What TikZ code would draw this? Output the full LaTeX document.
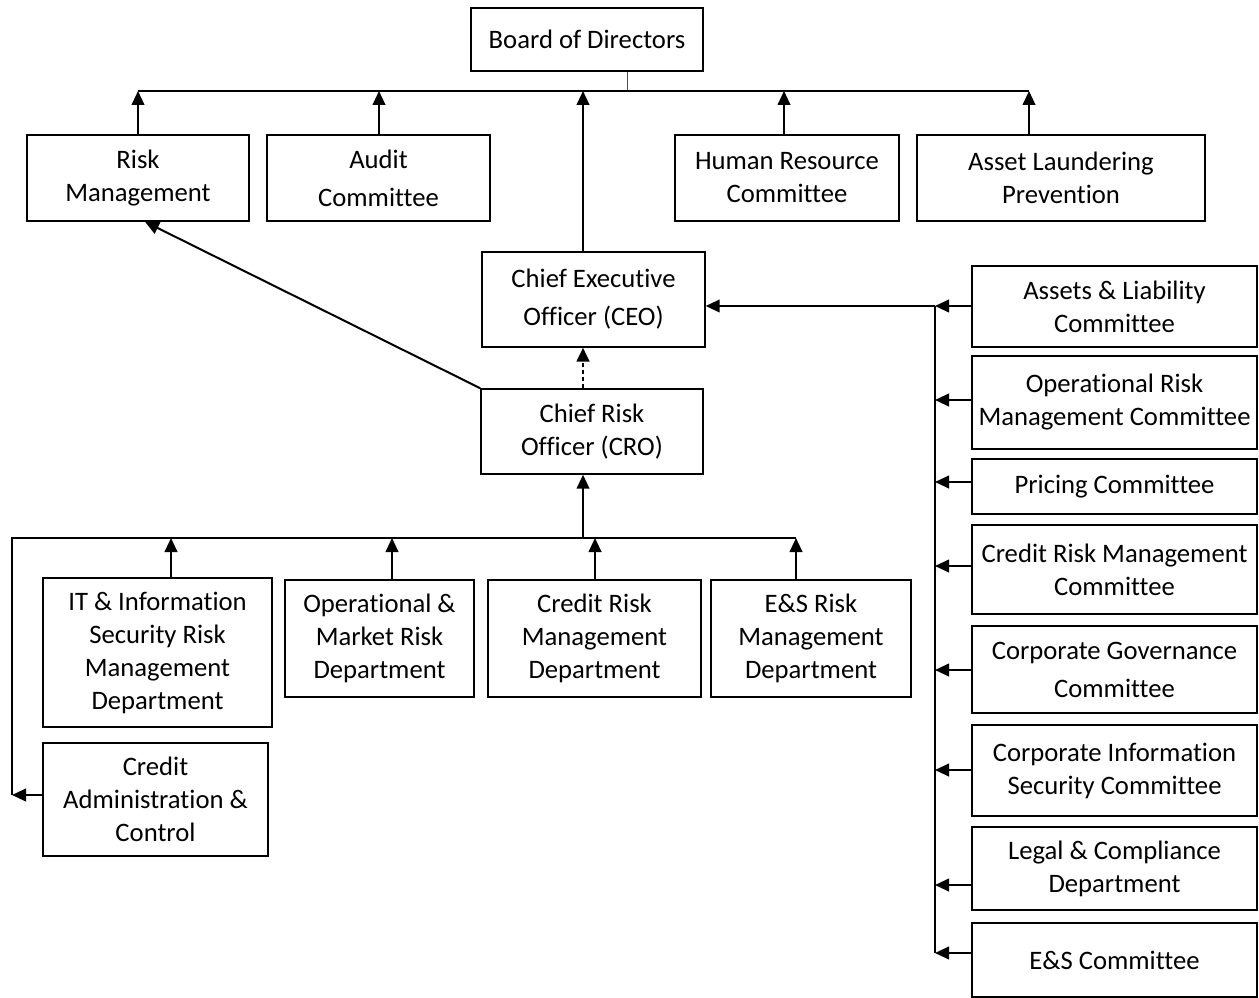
\documentclass[tikz,border=0pt]{standalone}
\usepackage{fontspec}
\setmainfont{Carlito}[Ligatures=NoCommon]
\usetikzlibrary{arrows.meta,calc}

\begin{document}
\begin{tikzpicture}[
    x=0.75pt, y=-0.75pt,
    box/.style={rectangle, draw=black, line width=1.1pt, inner sep=1pt, align=center, font=\fontsize{20}{24.75}\selectfont},
    loose/.style={font=\fontsize{20}{28.5}\selectfont},
    wh/.style 2 args={minimum width=#1*0.75pt, minimum height=#2*0.75pt},
    arrow/.style={-{Triangle[length=10.5pt, width=9.5pt]}, line width=1.5pt},
    link/.style={line width=1.4pt}
]
\useasboundingbox (0,0) rectangle (1259,998);

% Board
\node[box, wh={232}{63}] (board) at (587,39.5) {Board of Directors};

% Board committees
\node[box, wh={222}{86}] (risk) at (138,178) {Risk\\Management};
\node[box, loose, wh={223}{86}] (audit) at (378.5,178) {Audit\\Committee};
\node[box, wh={224}{86}] (hr) at (787,178) {Human Resource\\Committee};
\node[box, wh={288}{86}] (alp) at (1061,178) {Asset Laundering\\Prevention};

% Executive line
\node[box, loose, wh={223}{95}] (ceo) at (593.5,299.5) {Chief Executive\\Officer (CEO)};
\node[box, wh={222}{85}] (cro) at (592,431.5) {Chief Risk\\Officer (CRO)};

% Risk departments
\node[box, wh={229}{149}] (itsec) at (157.5,652.5) {IT \& Information\\Security Risk\\Management\\Department};
\node[box, wh={189}{117}] (opmkt) at (379.5,638.5) {Operational \&\\Market Risk\\Department};
\node[box, wh={213}{117}] (crdept) at (594.5,638.5) {Credit Risk\\Management\\Department};
\node[box, wh={200}{117}] (esdept) at (811,638.5) {E\&S Risk\\Management\\Department};
\node[box, wh={225}{113}] (cadmin) at (155.5,799.5) {Credit\\Administration \&\\Control};

% Management committees
\node[box, wh={285}{81}] (alco) at (1114.5,306.5) {Assets \& Liability\\Committee};
\node[box, wh={285}{93}] (ormc) at (1114.5,402.5) {Operational Risk\\Management Committee};
\node[box, wh={285}{55}] (pricing) at (1114.5,486.5) {Pricing Committee};
\node[box, wh={285}{89}] (crmc) at (1114.5,569.5) {Credit Risk Management\\Committee};
\node[box, loose, wh={285}{87}] (cgc) at (1114.5,669.5) {Corporate Governance\\Committee};
\node[box, wh={285}{91}] (cisc) at (1114.5,770.5) {Corporate Information\\Security Committee};
\node[box, wh={285}{83}] (legal) at (1114.5,868.5) {Legal \& Compliance\\Department};
\node[box, wh={285}{74}] (escom) at (1114.5,960) {E\&S Committee};

% Bus points
\coordinate (topbus) at (627,91);
\coordinate (t1) at (138,91);
\coordinate (t2) at (379,91);
\coordinate (t3) at (583,91);
\coordinate (t4) at (784,91);
\coordinate (t5) at (1029,91);
\coordinate (b0) at (12,795);
\coordinate (b1) at (171,538);
\coordinate (b2) at (392,538);
\coordinate (b3) at (583,538);
\coordinate (b4) at (595,538);
\coordinate (b5) at (796,538);
\coordinate (r0) at (935,306);
\coordinate (r2) at (935,400);
\coordinate (r3) at (935,482);
\coordinate (r4) at (935,566);
\coordinate (r5) at (935,670);
\coordinate (r6) at (935,770);
\coordinate (r7) at (935,885);
\coordinate (r8) at (935,953);

% Top level
\draw[gray!60!black, line width=0.7pt] (board.south -| topbus) -- (topbus);
\draw[link] (t1) -- (t5);
\draw[arrow] (risk.north -| t1) -- (t1);
\draw[arrow] (audit.north -| t2) -- (t2);
\draw[arrow] (ceo.north -| t3) -- (t3);
\draw[arrow] (hr.north -| t4) -- (t4);
\draw[arrow] (alp.north -| t5) -- (t5);

% CRO links
\draw[arrow] (cro.north west) -- ([xshift=5.25pt]risk.south);
\draw[arrow, dash pattern=on 3pt off 2.2pt, line width=2pt] (cro.north -| t3) -- (ceo.south -| t3);

% Departments to CRO
\draw[link] (b0) |- (b5);
\draw[arrow] (b3) -- (cro.south -| b3);
\draw[arrow] (itsec.north -| b1) -- (b1);
\draw[arrow] (opmkt.north -| b2) -- (b2);
\draw[arrow] (crdept.north -| b4) -- (b4);
\draw[arrow] (esdept.north -| b5) -- (b5);
\draw[arrow] (cadmin.west |- b0) -- (b0);

% Committees to CEO
\draw[link] (r0) -- (r8);
\draw[arrow] (r0) -- (ceo.east |- r0);
\draw[arrow] (alco.west |- r0) -- (r0);
\draw[arrow] (ormc.west |- r2) -- (r2);
\draw[arrow] (pricing.west |- r3) -- (r3);
\draw[arrow] (crmc.west |- r4) -- (r4);
\draw[arrow] (cgc.west |- r5) -- (r5);
\draw[arrow] (cisc.west |- r6) -- (r6);
\draw[arrow] (legal.west |- r7) -- (r7);
\draw[arrow] (escom.west |- r8) -- (r8);

\end{tikzpicture}
\end{document}
